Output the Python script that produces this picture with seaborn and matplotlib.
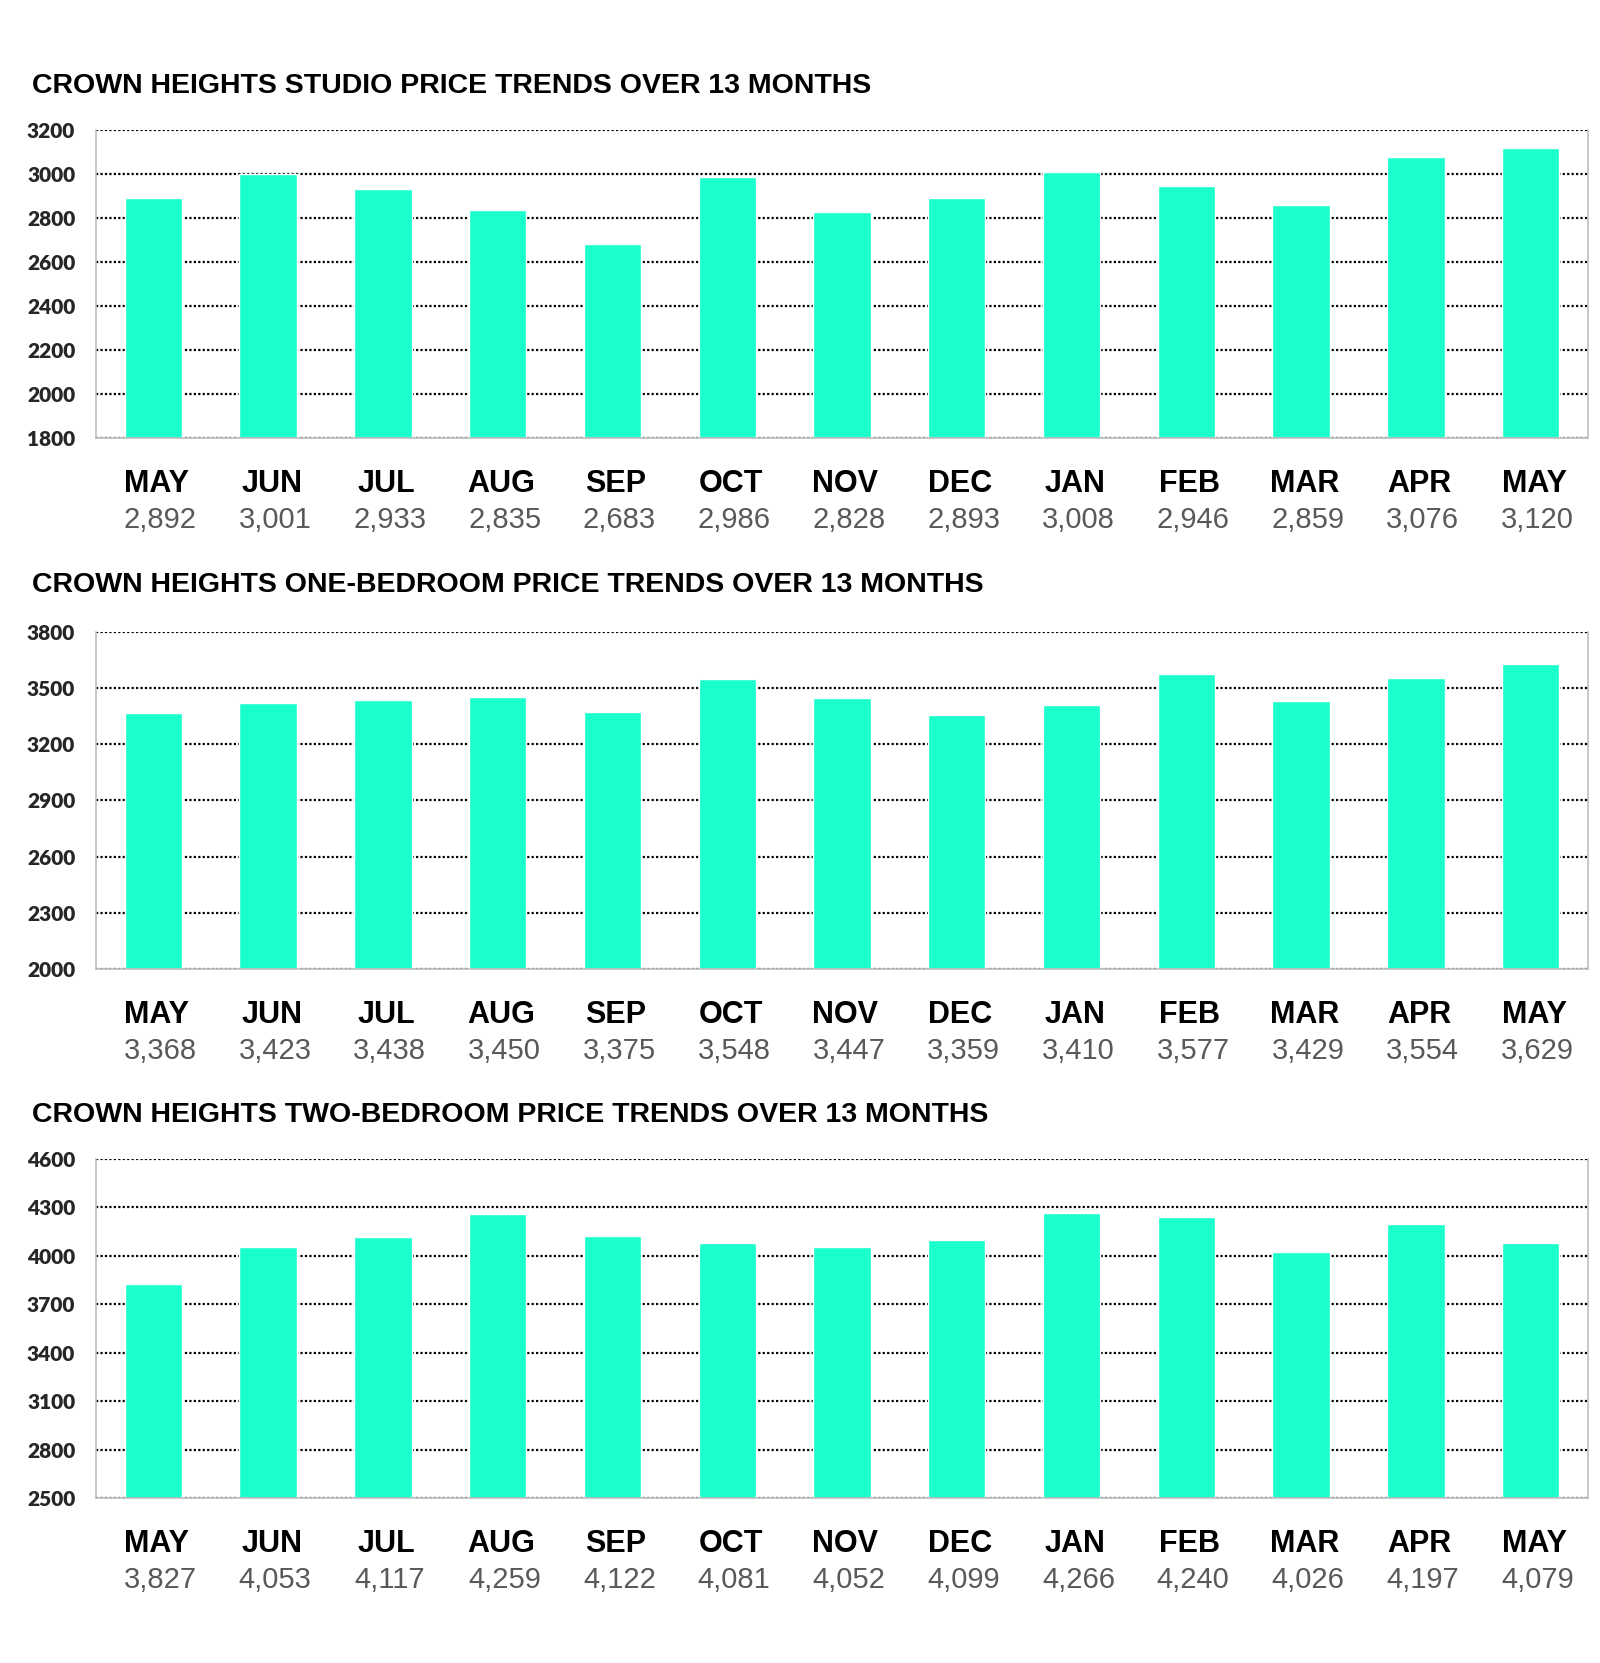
import matplotlib
matplotlib.use("Agg")
import matplotlib.pyplot as plt
import matplotlib.transforms as mtransforms
import seaborn as sns
import pandas as pd

months = ["MAY", "JUN", "JUL", "AUG", "SEP", "OCT", "NOV", "DEC", "JAN", "FEB", "MAR", "APR", "MAY"]
studio = [2892, 3001, 2933, 2835, 2683, 2986, 2828, 2893, 3008, 2946, 2859, 3076, 3120]
one_bed = [3368, 3423, 3438, 3450, 3375, 3548, 3447, 3359, 3410, 3577, 3429, 3554, 3629]
two_bed = [3827, 4053, 4117, 4259, 4122, 4081, 4052, 4099, 4266, 4240, 4026, 4197, 4079]

titles = [
    "CROWN HEIGHTS STUDIO PRICE TRENDS OVER 13 MONTHS",
    "CROWN HEIGHTS ONE-BEDROOM PRICE TRENDS OVER 13 MONTHS",
    "CROWN HEIGHTS TWO-BEDROOM PRICE TRENDS OVER 13 MONTHS",
]
y_ranges = [(1800, 3200, 200), (2000, 3800, 300), (2500, 4600, 300)]

BAR = "#1BFFCC"
GRAY = "#BFBFBF"

sns.set_style("white")
plt.rcParams["font.family"] = ["Liberation Sans", "DejaVu Sans"]

fig = plt.figure(figsize=(16, 16.63), dpi=100)

# axes boxes [left, bottom, width, height] and title heights, in figure fractions
boxes = [
    [0.06, 0.7366, 0.9325, 0.1852],
    [0.06, 0.4173, 0.9325, 0.2027],
    [0.06, 0.0992, 0.9325, 0.2039],
]
title_y = [0.9483, 0.6482, 0.3295]

for series, title, (lo, hi, step), box, ty in zip(
    [studio, one_bed, two_bed], titles, y_ranges, boxes, title_y
):
    ax = fig.add_axes(box)
    df = pd.DataFrame({"pos": list(range(len(months))), "price": series})
    sns.barplot(data=df, x="pos", y="price", color=BAR, saturation=1, width=0.5, ax=ax)

    ax.set_xlim(-0.5, len(months) - 0.5)
    ax.set_ylim(lo, hi)
    ax.set_yticks(list(range(lo, hi + 1, step)))
    ax.set_yticklabels([str(v) for v in range(lo, hi + 1, step)],
                       fontfamily="Lato", fontweight="heavy", fontsize=15)
    ax.tick_params(axis="y", length=0, pad=15)

    ax.set_xticks([])
    ax.set_xticks([i - 0.5 for i in range(len(months) + 1)], minor=True)
    ax.tick_params(axis="x", which="minor", length=6, color=GRAY, width=1.2)

    ax.set_axisbelow(True)
    ax.yaxis.grid(True, linestyle=(0, (1, 1)), color="black", linewidth=1.6)
    ax.xaxis.grid(False)

    for side in ["left", "bottom", "right"]:
        ax.spines[side].set_visible(True)
        ax.spines[side].set_color(GRAY)
        ax.spines[side].set_linewidth(1.2)
    ax.spines["top"].set_visible(False)

    ax.set_xlabel("")
    ax.set_ylabel("")

    trans = mtransforms.blended_transform_factory(ax.transData, ax.transAxes)
    ax_h_px = box[3] * fig.get_figheight() * fig.dpi
    for i, (m, v) in enumerate(zip(months, series)):
        ax.text(i + 0.03, -46 / ax_h_px, m, transform=trans, ha="center", va="center",
                fontsize=22, fontweight="bold", color="black")
        ax.text(i + 0.06, -82 / ax_h_px, f"{v:,}", transform=trans, ha="center", va="center",
                fontsize=21, color="#595959")

    fig.text(0.02, ty, title, ha="left", va="center", fontsize=20.5,
             fontweight="bold", color="black")

fig.savefig("out.png", dpi=100)
